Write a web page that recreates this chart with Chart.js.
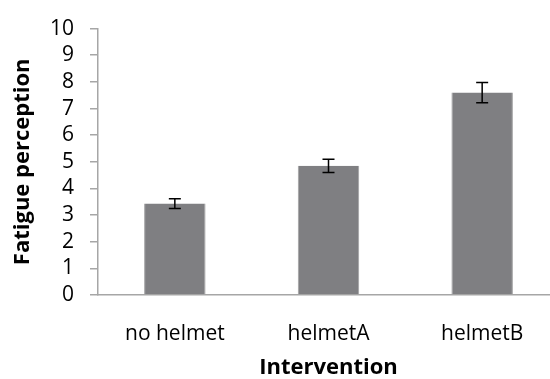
<!DOCTYPE html>
<html>
<head>
<meta charset="utf-8">
<script src="https://cdn.jsdelivr.net/npm/chart.js@4"></script>
<style>
    html, body { margin: 0; padding: 0; background: #fff; overflow: hidden; }
    #wrap { width: 561px; height: 379px; }
</style>
</head>
<body>
<div id="wrap"><canvas id="chart" width="561" height="379"></canvas></div>
<script>
const categories = ['no helmet', 'helmetA', 'helmetB'];
const fatigue = [3.43, 4.85, 7.6];
const errors = [0.18, 0.25, 0.38];
const yTicks = [0, 1, 2, 3, 4, 5, 6, 7, 8, 9, 10];

const FONT = "'Open Sans', 'Liberation Sans', sans-serif";
const AXIS_GREY = '#a6a6a6';

// Error bars drawn from the data arrays through the chart's scales
const errorBars = {
    id: 'errorBars',
    afterDatasetsDraw(chart) {
        const ctx = chart.ctx;
        const x = chart.scales.x;
        const y = chart.scales.y;
        ctx.save();
        ctx.strokeStyle = '#000';
        ctx.lineWidth = 1.5;
        fatigue.forEach((v, i) => {
            const cx = x.getPixelForValue(i);
            const top = y.getPixelForValue(v + errors[i]);
            const bot = y.getPixelForValue(v - errors[i]);
            ctx.beginPath();
            ctx.moveTo(cx, top); ctx.lineTo(cx, bot);
            ctx.moveTo(cx - 6, top); ctx.lineTo(cx + 6, top);
            ctx.moveTo(cx - 6, bot); ctx.lineTo(cx + 6, bot);
            ctx.stroke();
        });
        ctx.restore();
    }
};

new Chart(document.getElementById('chart').getContext('2d'), {
    type: 'bar',
    data: {
        labels: categories,
        datasets: [{
            data: fatigue,
            backgroundColor: '#7f7f82',
            borderColor: '#a0a0a2',
            borderWidth: { left: 1, right: 1, top: 0, bottom: 0 },
            barPercentage: 0.8,
            categoryPercentage: 0.5,
        }]
    },
    options: {
        responsive: false,
        animation: false,
        layout: { padding: { top: 25, right: 2, left: 0, bottom: 0 } },
        plugins: {
            legend: { display: false },
            tooltip: { enabled: false }
        },
        scales: {
            x: {
                grid: { display: false },
                border: { display: true, color: AXIS_GREY, width: 1.5 },
                ticks: { color: '#000', font: { family: FONT, size: 21 }, padding: 18 },
                title: {
                    display: true, text: 'Intervention', color: '#000',
                    font: { family: FONT, size: 22, weight: 'bold', lineHeight: 1 },
                    padding: { top: 0, bottom: 0 }
                },
                afterFit(scale) { scale.height = 84; }
            },
            y: {
                min: 0,
                max: 10,
                afterBuildTicks(scale) { scale.ticks = yTicks.map(v => ({ value: v })); },
                grid: { drawOnChartArea: false, drawTicks: true, tickLength: 8, color: AXIS_GREY, lineWidth: 1.5 },
                border: { display: true, color: AXIS_GREY, width: 1.5 },
                ticks: { color: '#000', font: { family: FONT, size: 21 }, padding: 16, autoSkip: false },
                title: {
                    display: true, text: 'Fatigue perception', color: '#000',
                    font: { family: FONT, size: 22, weight: 'bold' },
                    padding: { top: 10, bottom: 0 }
                },
                afterFit(scale) { scale.width = 98; }
            }
        }
    },
    plugins: [errorBars]
});
</script>
</body>
</html>
